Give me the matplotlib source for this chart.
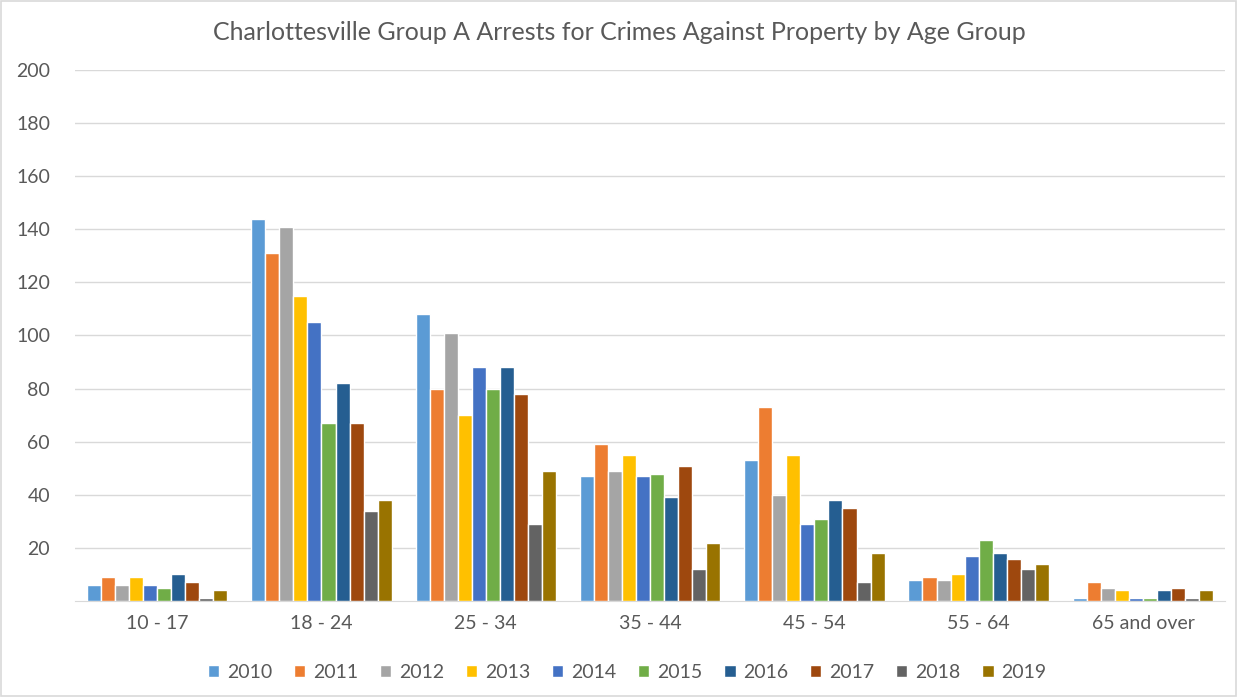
import numpy as np
import matplotlib.pyplot as plt

plt.rcParams['font.family'] = ['Lato', 'DejaVu Sans']

age_groups = ['10 - 17', '18 - 24', '25 - 34', '35 - 44', '45 - 54', '55 - 64', '65 and over']
years = ['2010', '2011', '2012', '2013', '2014', '2015', '2016', '2017', '2018', '2019']

# arrests per year, one list per age group
a10_17 = [6, 9, 6, 9, 6, 5, 10, 7, 1, 4]
a18_24 = [144, 131, 141, 115, 105, 67, 82, 67, 34, 38]
a25_34 = [108, 80, 101, 70, 88, 80, 88, 78, 29, 49]
a35_44 = [47, 59, 49, 55, 47, 48, 39, 51, 12, 22]
a45_54 = [53, 73, 40, 55, 29, 31, 38, 35, 7, 18]
a55_64 = [8, 9, 8, 10, 17, 23, 18, 16, 12, 14]
a65_up = [1, 7, 5, 4, 1, 1, 4, 5, 1, 4]

colors = ['#5B9BD5', '#ED7D31', '#A5A5A5', '#FFC000', '#4472C4',
          '#70AD47', '#255E91', '#9E480E', '#636363', '#997300']

values = np.array([a10_17, a18_24, a25_34, a35_44, a45_54, a55_64, a65_up])

fig = plt.figure(figsize=(12.38, 6.97), dpi=100)
ax = fig.add_axes([0.0606, 0.1377, 0.929, 0.762])

x = np.arange(len(age_groups))
w = 0.0855
for i, yr in enumerate(years):
    ax.bar(x + (i - 4.5) * w, values[:, i], width=w, color=colors[i],
           edgecolor='white', linewidth=1.0, label=yr, zorder=3)

ax.set_xlim(-0.5, len(age_groups) - 0.5)
ax.set_ylim(0, 200)
ax.set_yticks(range(20, 201, 20))
ax.yaxis.grid(True, color='#D9D9D9', linewidth=1.0, zorder=0)
ax.set_xticks(x)
ax.set_xticklabels(age_groups)
ax.tick_params(axis='both', length=0, labelsize=14, colors='#595959', pad=10)
ax.tick_params(axis='y', pad=18)
for s in ['top', 'right', 'left']:
    ax.spines[s].set_visible(False)
ax.spines['bottom'].set_color('#D9D9D9')

fig.text(0.5, 0.953, 'Charlottesville Group A Arrests for Crimes Against Property by Age Group',
         fontsize=18, color='#595959', ha='center', va='center')

ax.legend(loc='upper center', bbox_to_anchor=(0.48, -0.085), ncol=10, frameon=False,
          fontsize=14, handlelength=0.6, handleheight=0.6, handletextpad=0.4,
          columnspacing=1.1, labelcolor='#595959')

fig.patches.append(plt.Rectangle((0.001, 0.001), 0.997, 0.997, transform=fig.transFigure,
                                 fill=False, edgecolor='#D9D9D9', linewidth=1.2))

fig.savefig('out.png', dpi=100)
